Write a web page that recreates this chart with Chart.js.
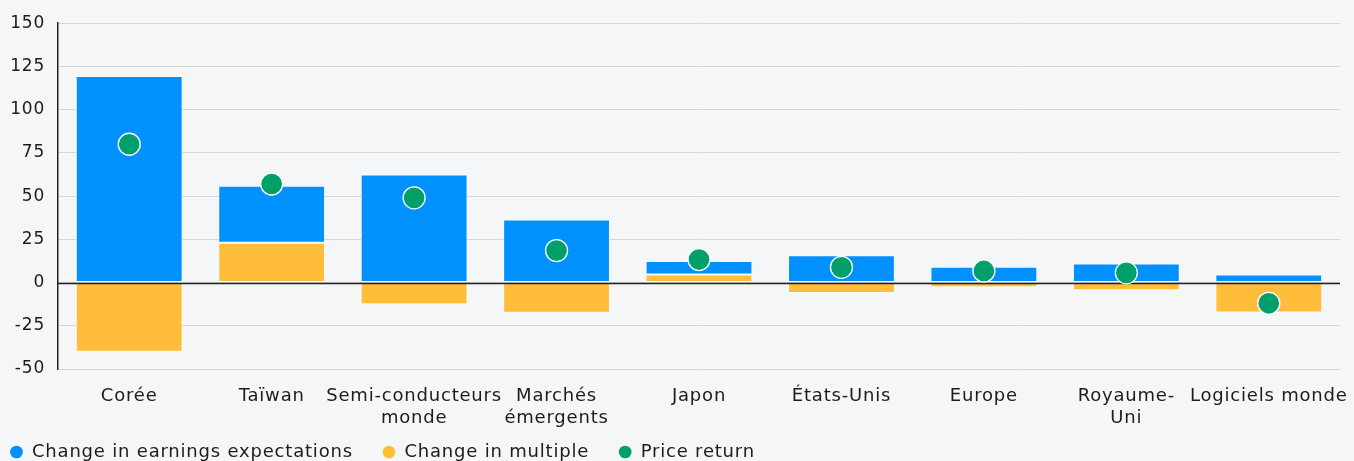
<!DOCTYPE html>
<html>
<head>
<meta charset="utf-8">
<script src="https://cdn.jsdelivr.net/npm/chart.js@4.4.0/dist/chart.umd.min.js"></script>
<style>
  html, body { margin: 0; padding: 0; background: #f5f6f8; overflow: hidden; }
  canvas { display: block; }
</style>
</head>
<body>
<canvas id="myChart" width="1354" height="471"></canvas>
<script>
// Chart values
const categories = [
  'Corée',
  'Taïwan',
  ['Semi-conducteurs', 'monde'],
  ['Marchés', 'émergents'],
  'Japon',
  'États-Unis',
  'Europe',
  ['Royaume-', 'Uni'],
  'Logiciels monde',
];
const earningsChange = [119.5, 33, 62.5, 36.5, 7.8, 15.8, 9.2, 11, 4.6];
const multipleChange = [-40, 23, -12.5, -17.5, 4.7, -6, -2.7, -4.4, -17.3];
const priceReturn = [80, 57, 49, 18.5, 13.3, 8.8, 6.7, 5.6, -12];
const seriesNames = ['Change in earnings expectations', 'Change in multiple', 'Price return'];

const BLUE = '#0091ff';
const YELLOW = '#ffbd3a';
const GREEN = '#00a06b';
const TEXT = '#1c1c1c';
const FONT = { family: '"DejaVu Sans", sans-serif', size: 18 };

// letter spacing of the canvas text (kept on the context across resets)
const spacingPlugin = {
  id: 'spacingPlugin',
  beforeUpdate(chart) { chart.ctx.letterSpacing = '0.8px'; },
  beforeDraw(chart) { chart.ctx.letterSpacing = '0.8px'; },
};

// black zero line drawn over the bars but under the dots
const zeroLinePlugin = {
  id: 'zeroLinePlugin',
  beforeDatasetDraw(chart, args) {
    if (args.index !== 2) return;
    const { ctx, chartArea, scales } = chart;
    const y = Math.round(scales.y.getPixelForValue(0)) + 0.5;
    ctx.save();
    ctx.strokeStyle = '#222';
    ctx.lineWidth = 1.5;
    ctx.beginPath();
    ctx.moveTo(chartArea.left, y);
    ctx.lineTo(chartArea.right, y);
    ctx.stroke();
    ctx.restore();
  },
};

const legendRank = { 1: 0, 0: 1, 2: 2 };
const legendGap = ['   ', '   ', ''];

new Chart(document.getElementById('myChart'), {
  type: 'bar',
  data: {
    labels: categories,
    datasets: [
      {
        label: seriesNames[1],
        data: multipleChange,
        backgroundColor: YELLOW,
        borderColor: 'rgba(255,255,255,0.55)',
        borderWidth: 1,
        borderSkipped: false,
        stack: 'bars',
      },
      {
        label: seriesNames[0],
        data: earningsChange,
        backgroundColor: BLUE,
        borderColor: 'rgba(255,255,255,0.55)',
        borderWidth: 1,
        borderSkipped: false,
        stack: 'bars',
      },
      {
        type: 'line',
        label: seriesNames[2],
        data: priceReturn,
        showLine: false,
        stack: 'dots',
        order: -1,
        backgroundColor: GREEN,
        pointBackgroundColor: GREEN,
        pointBorderColor: '#ffffff',
        pointBorderWidth: 1.3,
        pointRadius: 11,
        pointHoverRadius: 11,
      },
    ],
  },
  options: {
    responsive: false,
    animation: false,
    layout: {
      padding: { top: 23, right: 14, left: 0, bottom: 0 },
    },
    datasets: {
      bar: {
        barPercentage: 0.75,
        categoryPercentage: 1,
      },
    },
    plugins: {
      tooltip: { enabled: false },
      legend: {
        position: 'bottom',
        align: 'start',
        labels: {
          usePointStyle: true,
          pointStyle: 'circle',
          boxWidth: 13,
          boxHeight: 9,
          padding: 10,
          color: TEXT,
          font: FONT,
          sort: (a, b) => legendRank[a.datasetIndex] - legendRank[b.datasetIndex],
          generateLabels: (chart) => {
            const items = Chart.defaults.plugins.legend.labels.generateLabels(chart);
            items.forEach((item) => {
              item.lineWidth = 0;
              item.strokeStyle = 'transparent';
              item.text = item.text + legendGap[legendRank[item.datasetIndex]];
            });
            return items;
          },
        },
      },
    },
    scales: {
      x: {
        stacked: true,
        grid: { display: false },
        border: { display: false },
        ticks: {
          color: TEXT,
          font: FONT,
          padding: 9,
          autoSkip: false,
          maxRotation: 0,
        },
        afterFit: (scale) => {
          scale.height = 64;
          // let the last label run past the plot edge, as in the original
          scale.paddingRight = 0;
          scale.paddingLeft = 0;
        },
      },
      y: {
        stacked: true,
        min: -50,
        max: 150,
        ticks: {
          stepSize: 25,
          color: TEXT,
          font: { family: FONT.family, size: 17 },
          padding: 13,
        },
        grid: {
          color: '#d4d6da',
          lineWidth: 1,
          drawTicks: false,
        },
        border: { display: true, color: '#222', width: 1.5 },
        afterFit: (scale) => { scale.width = 58; },
      },
    },
  },
  plugins: [spacingPlugin, zeroLinePlugin],
});
</script>
</body>
</html>
